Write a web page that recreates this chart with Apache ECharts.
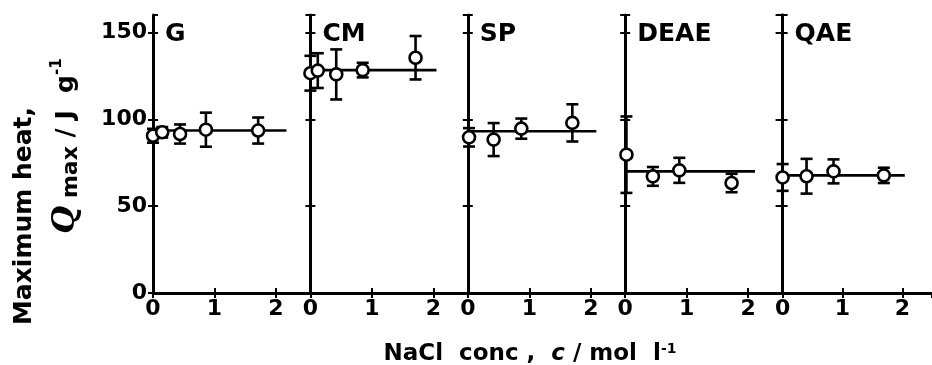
<!doctype html>
<html>
<head>
<meta charset="utf-8">
<script src="https://cdn.jsdelivr.net/npm/echarts@6/dist/echarts.min.js"></script>
<style>
  html, body { margin: 0; padding: 0; background: #fff; }
  #main { width: 932px; height: 365px; }
</style>
</head>
<body>
<div id="main"></div>
<script>
// panels (ion exchangers) and their data
var panelNames = ['G', 'CM', 'SP', 'DEAE', 'QAE'];

var gConc = [0, 0.15, 0.44, 0.86, 1.71];
var gHeat = [90.5, 92.5, 91.5, 94, 93.5];
var gErr  = [4, 3, 5.5, 9.8, 7.5];

var cmConc = [0, 0.12, 0.42, 0.85, 1.71];
var cmHeat = [126.5, 128, 125.8, 128.3, 135.4];
var cmErr  = [10, 10, 14.4, 4.2, 12.5];

var spConc = [0.02, 0.42, 0.87, 1.70];
var spHeat = [89.6, 88.3, 94.6, 97.9];
var spErr  = [5.3, 9.5, 5.8, 10.7];

var deaeConc = [0.02, 0.45, 0.88, 1.73];
var deaeHeat = [79.6, 67.1, 70.6, 63.3];
var deaeErr  = [22, 5.4, 7.2, 5.3];

var qaeConc = [0, 0.40, 0.85, 1.69];
var qaeHeat = [66.5, 67.2, 70, 67.7];
var qaeErr  = [7.7, 10, 6.9, 4.4];

// mean lines: level and where the line stops
var meanHeat = [93.5, 128.3, 93.1, 70, 67.7];
var meanEnd  = [2.17, 2.05, 2.09, 2.11, 2.04];

var xTicks = [0, 1, 2];
var yTicks = [0, 50, 100, 150];

var allConc = [gConc, cmConc, spConc, deaeConc, qaeConc];
var allHeat = [gHeat, cmHeat, spHeat, deaeHeat, qaeHeat];
var allErr  = [gErr, cmErr, spErr, deaeErr, qaeErr];

var FONT = 'DejaVu Sans';
var panelW = 157.4, panelL = 153, unit = 61.5;
var lastRight = 936;

function renderErr(params, api) {
  var x = api.value(0), y = api.value(1), e = api.value(2);
  var top = api.coord([x, y + e]);
  var bot = api.coord([x, y - e]);
  var hw = 6;
  var st = { stroke: '#000', lineWidth: 2.6 };
  return {
    type: 'group',
    children: [
      { type: 'line', shape: { x1: top[0], y1: top[1], x2: bot[0], y2: bot[1] }, style: st },
      { type: 'line', shape: { x1: top[0] - hw, y1: top[1], x2: top[0] + hw, y2: top[1] }, style: st },
      { type: 'line', shape: { x1: bot[0] - hw, y1: bot[1], x2: bot[0] + hw, y2: bot[1] }, style: st }
    ]
  };
}

var grids = [], xAxes = [], yAxes = [], series = [], graphics = [];
var n = panelNames.length;

for (var i = 0; i < n; i++) {
  var left = panelL + i * panelW;
  var w = (i === n - 1) ? lastRight - left : panelW;
  var xMax = w / unit;
  grids.push({ left: left, top: 15, width: w, height: 278 });

  // bottom x axis
  xAxes.push({
    gridIndex: i, type: 'value', min: 0, max: xMax, interval: 1,
    axisLine: { lineStyle: { color: '#000', width: 3 } },
    axisTick: { inside: true, length: 5, lineStyle: { color: '#000', width: 2 } },
    axisLabel: {
      color: '#000', fontFamily: FONT, fontWeight: 'bold', fontSize: 22, margin: 5,
      showMaxLabel: false,
      formatter: function (v) { return xTicks.indexOf(v) >= 0 ? String(v) : ''; }
    },
    splitLine: { show: false }
  });
  // top frame
  xAxes.push({
    gridIndex: i, type: 'value', position: 'top', min: 0, max: xMax, interval: 1,
    axisLine: { lineStyle: { color: '#000', width: 2 } },
    axisTick: { inside: true, length: 5, lineStyle: { color: '#000', width: 2 } },
    axisLabel: { show: false },
    splitLine: { show: false }
  });
  // left axis, ticks outside
  yAxes.push({
    gridIndex: i, type: 'value', min: 0, max: 160, interval: 50,
    axisLine: { lineStyle: { color: '#000', width: 3 } },
    axisTick: { length: 5, lineStyle: { color: '#000', width: 2 } },
    axisLabel: {
      show: i === 0, color: '#000', fontFamily: FONT, fontWeight: 'bold', fontSize: 22,
      margin: 6, showMaxLabel: false,
      formatter: function (v) { return yTicks.indexOf(v) >= 0 ? String(v) : ''; }
    },
    splitLine: { show: false }
  });
  // same axis, ticks inside (so they cross the line); last panel gets a right frame
  yAxes.push({
    gridIndex: i, type: 'value', position: (i === n - 1) ? 'right' : 'left',
    min: 0, max: 160, interval: 50,
    axisLine: { show: i === n - 1, lineStyle: { color: '#000', width: 3 } },
    axisTick: { inside: true, length: (i === n - 1) ? 7 : 5, lineStyle: { color: '#000', width: 2 } },
    axisLabel: { show: false },
    splitLine: { show: false }
  });
  if (i === n - 1) {
    // inside ticks on the left separator of the last panel
    yAxes.push({
      gridIndex: i, type: 'value', position: 'left', min: 0, max: 160, interval: 50,
      axisLine: { show: false },
      axisTick: { inside: true, length: 5, lineStyle: { color: '#000', width: 2 } },
      axisLabel: { show: false },
      splitLine: { show: false }
    });
  }

  series.push({
    type: 'line', xAxisIndex: 2 * i, yAxisIndex: 2 * i,
    data: [[0, meanHeat[i]], [meanEnd[i], meanHeat[i]]],
    symbol: 'none', lineStyle: { color: '#000', width: 2.6 }, z: 3, silent: true
  });

  var errData = [], ptData = [];
  for (var k = 0; k < allConc[i].length; k++) {
    errData.push([allConc[i][k], allHeat[i][k], allErr[i][k]]);
    ptData.push([allConc[i][k], allHeat[i][k]]);
  }
  series.push({
    type: 'custom', xAxisIndex: 2 * i, yAxisIndex: 2 * i,
    renderItem: renderErr, data: errData, encode: { x: 0, y: 1 }, z: 4, silent: true
  });
  series.push({
    type: 'scatter', xAxisIndex: 2 * i, yAxisIndex: 2 * i,
    data: ptData, symbol: 'circle', symbolSize: 12, clip: false,
    itemStyle: { color: '#fff', borderColor: '#000', borderWidth: 2.6, opacity: 1 },
    z: 5, silent: true
  });

  graphics.push({
    type: 'text', left: left + 12, top: 22,
    style: { text: panelNames[i], fill: '#000', font: 'bold 25px "DejaVu Sans"' }
  });
}

// axis titles
graphics.push({
  type: 'text', x: 24, y: 216, rotation: Math.PI / 2,
  style: {
    text: 'Maximum heat,', fill: '#000', font: 'bold 25px "DejaVu Sans"',
    align: 'center', verticalAlign: 'middle'
  }
});
graphics.push({
  type: 'text', x: 66, y: 146, rotation: Math.PI / 2,
  style: {
    text: '{q|Q}{s| max} / J  g{p|-1}', fill: '#000', align: 'center', verticalAlign: 'middle',
    font: 'bold 25px "DejaVu Sans"',
    rich: {
      q: { font: 'italic bold 32px "DejaVu Serif"', fill: '#000' },
      s: { font: 'bold 22px "DejaVu Sans"', fill: '#000', verticalAlign: 'bottom', padding: [10, 0, 0, 0] },
      p: { font: 'bold 15px "DejaVu Sans"', fill: '#000', verticalAlign: 'top', padding: [0, 0, 12, 0] }
    }
  }
});
graphics.push({
  type: 'text', x: 530, y: 354,
  style: {
    text: 'NaCl  conc ,  {i|c} / mol  l{p|-1}', fill: '#000', align: 'center', verticalAlign: 'middle',
    font: 'bold 23px "DejaVu Sans"',
    rich: {
      i: { font: 'italic bold 23px "DejaVu Sans"', fill: '#000' },
      p: { font: 'bold 14px "DejaVu Sans"', fill: '#000', verticalAlign: 'top', padding: [0, 0, 10, 0] }
    }
  }
});

var chart = echarts.init(document.getElementById('main'));
chart.setOption({
  animation: false,
  backgroundColor: '#fff',
  grid: grids,
  xAxis: xAxes,
  yAxis: yAxes,
  series: series,
  graphic: graphics
});
</script>
</body>
</html>
